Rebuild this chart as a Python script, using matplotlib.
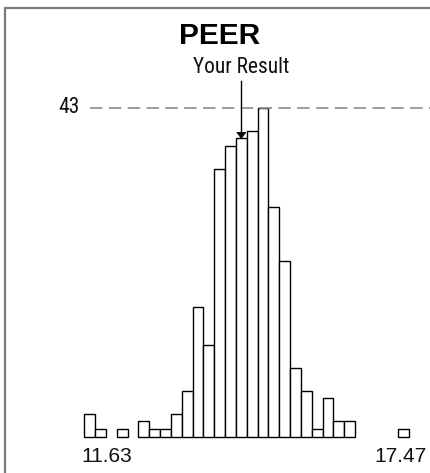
import matplotlib
matplotlib.use("Agg")
import matplotlib.pyplot as plt
from matplotlib.patches import Rectangle
import numpy as np

# Data
x_min = 11.63
x_max = 17.47
counts = [3, 1, 0, 1, 0, 2, 1, 1, 3, 6, 17, 12, 35, 38, 39, 40, 43, 30, 23, 9, 6, 1, 5, 2, 2, 0, 0, 0, 0, 1]
peak_label = "43"
peak_value = 43
result_bin = 14
title = "PEER"
result_label = "Your Result"

n = len(counts)
w = (x_max - x_min) / (n - 1)
lefts = x_min + w * np.arange(n)

W, H = 431, 473
fig = plt.figure(figsize=(W / 100, H / 100), dpi=100)
ax = fig.add_axes([0, 0, 1, 1])
ax.set_axis_off()

# pixel mapping
px_per_x = 10.83 / w
px_per_y = 7.65
x0_px = 84.3
base_px = H - 436.7
xl = x_min - x0_px / px_per_x
ax.set_xlim(xl, xl + W / px_per_x)
yb = -base_px / px_per_y
ax.set_ylim(yb, yb + H / px_per_y)

def fx(p):
    return xl + p / px_per_x

def fy(p):
    return yb + (H - p) / px_per_y

# frame (left and top visible)
ax.plot([fx(5), fx(5)], [fy(8.5), fy(H + 5)], color="#7a7a7a", lw=1.6, solid_capstyle="butt")
ax.plot([fx(4.2), fx(W + 5)], [fy(8.5), fy(8.5)], color="#7a7a7a", lw=1.6, solid_capstyle="butt")

# bars
for l, c in zip(lefts, counts):
    if c > 0:
        ax.add_patch(Rectangle((l, 0), w, c, facecolor="white", edgecolor="black", lw=1.0))

# dashed reference line
ax.plot([fx(90), fx(W + 5)], [peak_value, peak_value], color="#8c8c8c", lw=1.2,
        dashes=(7.5, 3.8))
narrow = ["Roboto Condensed", "Archivo Narrow", "Liberation Sans", "DejaVu Sans"]
ax.text(fx(79.5), peak_value, peak_label, ha="right", va="center", fontsize=15.5,
        family=narrow, color="#111111")

# title
ax.text(fx(219.5), fy(36), title, ha="center", va="center", fontsize=21.5,
        fontweight="bold", family=["Liberation Sans", "DejaVu Sans"])

# your result arrow
xr = lefts[result_bin] + w / 2
ytop = counts[result_bin]
ax.text(xr, fy(67.5), result_label, ha="center", va="center", fontsize=15.5,
        family=narrow, color="#111111")
ax.plot([xr, xr], [fy(81), ytop + 0.5], color="black", lw=1.0)
tri_h = 6 / px_per_y
tri_w = 4.5 / px_per_x
ax.add_patch(plt.Polygon([[xr - tri_w, ytop + tri_h], [xr + tri_w, ytop + tri_h], [xr, ytop]],
                         closed=True, facecolor="black", edgecolor="black", lw=0.5, zorder=5))

# bottom labels
ax.text(lefts[0] - 2.5 / px_per_x, fy(456.5), f"{x_min:.2f}", ha="left", va="center",
        fontsize=15, family=["Liberation Sans", "DejaVu Sans"], color="#111111")
ax.text(fx(426.7), fy(456.5), f"{x_max:.2f}", ha="right", va="center",
        fontsize=15, family=["Liberation Sans", "DejaVu Sans"], color="#111111")

fig.savefig("out.png", dpi=100)
